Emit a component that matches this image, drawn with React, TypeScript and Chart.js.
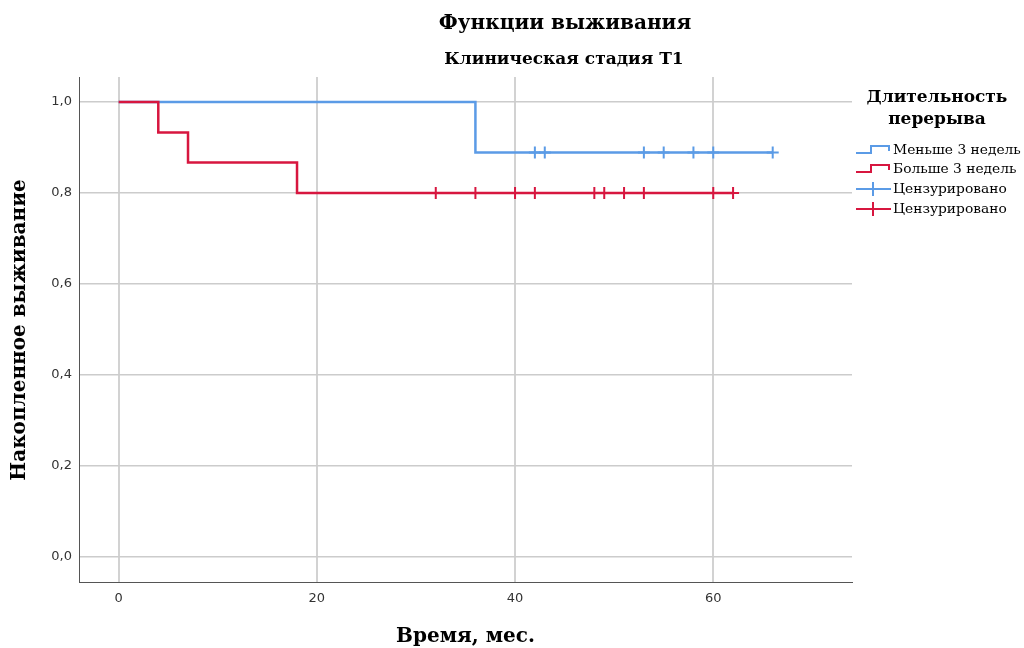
import React, { useEffect, useRef } from "react";
import { Chart, registerables } from "chart.js";

Chart.register(...registerables);

// ---- Data ----
const groupLabels = ["Меньше 3 недель", "Больше 3 недель"];
const censorLabel = "Цензурировано";

const blueTimes = [0, 36, 66];
const blueSurv = [1.0, 0.889, 0.889];
const blueCensorTimes = [42, 43, 53, 55, 58, 60, 66];
const blueCensorSurv = [0.889, 0.889, 0.889, 0.889, 0.889, 0.889, 0.889];

const redTimes = [0, 4, 7, 18, 62];
const redSurv = [1.0, 0.933, 0.867, 0.8, 0.8];
const redCensorTimes = [32, 36, 40, 42, 48, 49, 51, 53, 60, 62];
const redCensorSurv = [0.8, 0.8, 0.8, 0.8, 0.8, 0.8, 0.8, 0.8, 0.8, 0.8];

const xTicks = [0, 20, 40, 60];
const yTicks = [0, 0.2, 0.4, 0.6, 0.8, 1.0];

const titleText = "Функции выживания";
const subtitleText = "Клиническая стадия T1";
const xTitle = "Время, мес.";
const yTitle = "Накопленное выживание";
const legendTitle = ["Длительность", "перерыва"];

const BLUE = "#5b9be6";
const RED = "#d7163f";

const SERIF = "'DejaVu Serif'";

const toPts = (xs: number[], ys: number[]) => xs.map((x, i) => ({ x, y: ys[i] }));

const textPlugin = {
  id: "customText",
  afterDraw(chart: any) {
    const ctx = chart.ctx as CanvasRenderingContext2D;
    const area = chart.chartArea;
    ctx.save();
    ctx.fillStyle = "#000";
    ctx.textAlign = "center";
    ctx.textBaseline = "middle";
    ctx.font = `bold 20px ${SERIF}`;
    ctx.fillText(titleText, 565, 24);
    ctx.font = `bold 17px ${SERIF}`;
    ctx.fillText(subtitleText, 564, 60);
    ctx.font = `bold 20px ${SERIF}`;
    ctx.fillText(xTitle, (area.left + area.right) / 2, 637);
    ctx.save();
    ctx.translate(20, 330);
    ctx.rotate(-Math.PI / 2);
    ctx.font = `bold 20px ${SERIF}`;
    ctx.fillText(yTitle, 0, 0);
    ctx.restore();

    // legend
    ctx.font = `bold 17px ${SERIF}`;
    ctx.fillText(legendTitle[0], 937, 98);
    ctx.fillText(legendTitle[1], 937, 120);

    const rows = [
      { y: 150, color: BLUE, kind: "line", label: groupLabels[0] },
      { y: 169, color: RED, kind: "line", label: groupLabels[1] },
      { y: 189, color: BLUE, kind: "cens", label: censorLabel },
      { y: 209, color: RED, kind: "cens", label: censorLabel },
    ];
    ctx.textAlign = "left";
    ctx.font = `13.8px ${SERIF}`;
    for (const r of rows) {
      ctx.strokeStyle = r.color;
      ctx.lineWidth = 2;
      ctx.beginPath();
      if (r.kind === "line") {
        ctx.moveTo(856, r.y + 3);
        ctx.lineTo(871, r.y + 3);
        ctx.lineTo(871, r.y - 4);
        ctx.lineTo(889, r.y - 4);
        ctx.lineTo(889, r.y + 1);
      } else {
        ctx.moveTo(856, r.y);
        ctx.lineTo(891, r.y);
        ctx.moveTo(873, r.y - 7);
        ctx.lineTo(873, r.y + 7);
      }
      ctx.stroke();
      ctx.fillStyle = "#000";
      ctx.fillText(r.label, 893, r.y);
    }
    ctx.restore();
  },
};

export default function App() {
  const ref = useRef<HTMLCanvasElement | null>(null);
  useEffect(() => {
    if (!ref.current) return;
    const chart = new Chart(ref.current, {
      type: "scatter",
      data: {
        datasets: [
          {
            label: censorLabel + " 2",
            data: toPts(redCensorTimes, redCensorSurv),
            pointStyle: "cross",
            pointRadius: 6,
            pointBorderWidth: 2,
            borderColor: RED,
            backgroundColor: RED,
            showLine: false,
          },
          {
            label: censorLabel + " 1",
            data: toPts(blueCensorTimes, blueCensorSurv),
            pointStyle: "cross",
            pointRadius: 6,
            pointBorderWidth: 2,
            borderColor: BLUE,
            backgroundColor: BLUE,
            showLine: false,
          },
          {
            label: groupLabels[1],
            data: toPts(redTimes, redSurv),
            showLine: true,
            stepped: "before",
            borderColor: RED,
            borderWidth: 2.5,
            pointRadius: 0,
          },
          {
            label: groupLabels[0],
            data: toPts(blueTimes, blueSurv),
            showLine: true,
            stepped: "before",
            borderColor: BLUE,
            borderWidth: 2.5,
            pointRadius: 0,
          },
        ],
      },
      options: {
        animation: false,
        responsive: true,
        maintainAspectRatio: false,
        layout: { padding: { left: 0, top: 77, right: 172, bottom: 0 } },
        plugins: {
          legend: { display: false },
          tooltip: { enabled: false },
          title: { display: false },
        },
        scales: {
          x: {
            type: "linear",
            min: -4,
            max: 74,
            afterBuildTicks: (s: any) => {
              s.ticks = xTicks.map((v) => ({ value: v }));
            },
            afterFit: (s: any) => {
              s.height = 66;
            },
            grid: { color: "#d2d2d2", lineWidth: 2, drawTicks: false },
            border: { display: true, color: "#555", width: 1 },
            ticks: {
              padding: 9,
              color: "#333",
              font: { family: "'DejaVu Sans'", size: 13 },
              callback: (v: any) => String(v),
            },
          },
          y: {
            type: "linear",
            min: -0.055,
            max: 1.055,
            afterBuildTicks: (s: any) => {
              s.ticks = yTicks.map((v) => ({ value: v }));
            },
            afterFit: (s: any) => {
              s.width = 79;
            },
            grid: { color: "#cccccc", lineWidth: 1.5, drawTicks: false },
            border: { display: true, color: "#555", width: 1 },
            ticks: {
              padding: 7,
              color: "#333",
              font: { family: "'DejaVu Sans'", size: 13 },
              callback: (v: any) => Number(v).toFixed(1).replace(".", ","),
            },
          },
        },
      },
      plugins: [textPlugin],
    });
    return () => chart.destroy();
  }, []);
  return (
    <div style={{ position: "fixed", left: 0, top: 0, width: 1024, height: 648, background: "#fff" }}>
      <canvas ref={ref} />
    </div>
  );
}
